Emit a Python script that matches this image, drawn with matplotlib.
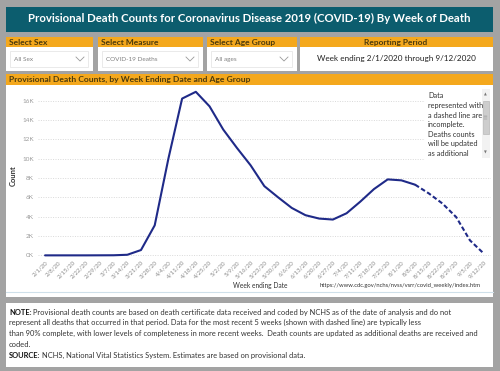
import matplotlib
matplotlib.use("Agg")
import matplotlib.pyplot as plt
from matplotlib.patches import Rectangle
from matplotlib.lines import Line2D

# ---------------- data ----------------
weeks = ["2/1/20", "2/8/20", "2/15/20", "2/22/20", "2/29/20", "3/7/20", "3/14/20",
         "3/21/20", "3/28/20", "4/4/20", "4/11/20", "4/18/20", "4/25/20", "5/2/20",
         "5/9/20", "5/16/20", "5/23/20", "5/30/20", "6/6/20", "6/13/20", "6/20/20",
         "6/27/20", "7/4/20", "7/11/20", "7/18/20", "7/25/20", "8/1/20", "8/8/20",
         "8/15/20", "8/22/20", "8/29/20", "9/5/20", "9/12/20"]
deaths = [0, 0, 0, 0, 5, 10, 60, 550, 3100, 10000, 16200, 16900, 15400, 13000,
          11100, 9300, 7150, 6000, 4900, 4150, 3800, 3700, 4350, 5550, 6850,
          7850, 7750, 7300, 6400, 5350, 3950, 1550, 200]
n_incomplete = 5  # last 5 weeks dashed
yticks = [0, 2000, 4000, 6000, 8000, 10000, 12000, 14000, 16000]
ytick_labels = ["0K", "2K", "4K", "6K", "8K", "10K", "12K", "14K", "16K"]

W, H = 500, 371
BG = "#a3a3a3"
TEAL = "#0c5d6e"
ORANGE = "#f4a81d"
HDR_TXT = "#4b3a0c"
LINE = "#1f2a88"
FONT = ["Lato", "DejaVu Sans"]

fig = plt.figure(figsize=(W / 100, H / 100), dpi=100)
fig.patch.set_facecolor(BG)
renderer = fig.canvas.get_renderer()


def fx(x):
    return x / W


def fy(y):
    return 1 - y / H


def rect(x0, y0, x1, y1, fc, ec="none", lw=0, z=0):
    fig.patches.append(Rectangle((fx(x0), fy(y1)), fx(x1) - fx(x0), fy(y0) - fy(y1),
                                 transform=fig.transFigure, facecolor=fc, edgecolor=ec,
                                 linewidth=lw, zorder=z))


def text(x, y, s, target_w=None, size=6, **kw):
    kw.setdefault("family", FONT)
    kw.setdefault("va", "center")
    kw.setdefault("zorder", 4)
    t = fig.text(fx(x), fy(y), s, fontsize=size, **kw)
    if target_w:
        w = t.get_window_extent(renderer).width
        t.set_fontsize(size * target_w / w)
    return t


def chevron(x, y):
    fig.lines.append(Line2D([fx(x - 4), fx(x), fx(x + 4)], [fy(y - 2), fy(y + 2), fy(y - 2)],
                            transform=fig.transFigure, color="#999999", lw=0.6, zorder=4))


# ---------------- title ----------------
rect(6, 7, 493, 32, TEAL)
text(249, 18, "Provisional Death Counts for Coronavirus Disease 2019 (COVID-19) By Week of Death",
     target_w=444, size=8, color="white", weight="bold", ha="center")

# ---------------- filter boxes ----------------
boxes = [(6, 93, "Select Sex", "All Sex"),
         (98, 203, "Select Measure", "COVID-19 Deaths"),
         (207, 297, "Select Age Group", "All ages")]
for x0, x1, head, val in boxes:
    rect(x0, 37, x1, 47.5, ORANGE)
    rect(x0, 47.5, x1, 71, "white")
    rect(x0 + 4, 51, x1 - 5, 67, "white", ec="#e6e6e6", lw=0.6, z=1)
    text(x0 + 3, 42.3, head, size=6.0, color=HDR_TXT, weight="bold")
    text(x0 + 8, 59.5, val, size=4.6, color="#808080")
    chevron(x1 - 13, 59)

rect(300, 37, 493, 47.5, ORANGE)
rect(300, 47.5, 493, 71, "white")
text(396, 42.3, "Reporting Period", size=6.0, color=HDR_TXT, ha="center", weight="bold")
text(396, 59, "Week ending 2/1/2020 through 9/12/2020", target_w=158, size=6,
     color="#222222", ha="center")

# ---------------- chart panel ----------------
rect(6, 74.5, 493, 84.5, ORANGE)
rect(6, 84.5, 493, 297, "white")
fig.lines.append(Line2D([fx(6), fx(493)], [fy(291.5), fy(291.5)], transform=fig.transFigure,
                        color="#cfe0ea", lw=0.8, zorder=1))
text(9, 79.5, "Provisional Death Counts, by Week Ending Date and Age Group",
     target_w=241, size=6, color=HDR_TXT, weight="bold")

ax = fig.add_axes([fx(38.2), fy(257), fx(490.5) - fx(38.2), fy(86) - fy(257)])
ax.set_zorder(2)
ax.set_facecolor("none")
x = list(range(len(weeks)))
k = len(weeks) - n_incomplete
ax.plot(x[:k], deaths[:k], color=LINE, lw=1.5, solid_capstyle="round", zorder=3)
ax.plot(x[k - 1:], deaths[k - 1:], color=LINE, lw=1.5, ls=(0, (2.2, 1.2)), zorder=3)
ax.set_xlim(-0.5, len(weeks) - 0.5)
ax.set_ylim(-170, 17500)
ax.set_yticks(yticks)
ax.set_yticklabels(ytick_labels, fontsize=4.6, color="#9a9a9a", family=FONT)
ax.set_xticks(x)
ax.set_xticklabels(weeks, fontsize=4.4, color="#8a8a8a", family=FONT, rotation=45,
                   ha="right", va="top", rotation_mode="anchor")
ax.tick_params(axis="both", length=0)
ax.tick_params(axis="y", pad=3)
ax.tick_params(axis="x", pad=2)
for s in ax.spines.values():
    s.set_visible(False)
ax.grid(axis="y", color="#d9d9d9", ls=(0, (1, 1.5)), lw=0.7)
ax.set_axisbelow(True)

text(13, 176, "Count", size=5.5, color="#333333", rotation=90, ha="center", weight="bold")
text(233, 285.5, "Week ending Date", target_w=55, size=6, color="#333333")
text(320, 285.5, "https://www.cdc.gov/nchs/nvss/vsrr/covid_weekly/index.htm", target_w=162,
     size=5, color="#333333")

# info box with scrollbar
rect(425, 88, 491, 160, "white", z=5)
info = ["Data", "represented with", "a dashed line are", "incomplete.", "Deaths counts",
        "will be updated", "as additional"]
for i, line in enumerate(info):
    text(428, 96 + i * 9.5, line, size=5.3, color="#333333", zorder=6)
rect(482, 89, 489.5, 158, "#f2f2f2", z=6)
rect(482.5, 100.5, 489, 133.5, "#cdcdcd", ec="#b0b0b0", lw=0.4, z=7)
text(485.8, 94, "▲", size=2.6, color="#777777", ha="center", zorder=8)
text(485.8, 153, "▼", size=2.6, color="#777777", ha="center", zorder=8)
for yy in (115.5, 117, 118.5):
    fig.lines.append(Line2D([fx(484.3), fx(487.3)], [fy(yy), fy(yy)], transform=fig.transFigure,
                            color="#888888", lw=0.3, zorder=8))

# ---------------- note box ----------------
rect(6, 303, 493, 367, "white")
note_size = 5.0
b = text(9, 312.3, "NOTE:", size=note_size, color="#111111", weight="bold")
bw = b.get_window_extent(renderer).width
r1 = text(9 + bw + 1.5, 312.3,
          "Provisional death counts are based on death certificate data received and coded by NCHS as of the date of analysis and do not",
          size=note_size, color="#333333")
w1 = bw + 1.5 + r1.get_window_extent(renderer).width
note_size *= 448 / w1
b.set_fontsize(note_size)
bw = b.get_window_extent(renderer).width
r1.set_fontsize(note_size)
r1.set_x(fx(9 + bw + 1.5))
text(9, 322.6, "represent all deaths that occurred in that period. Data for the most recent 5 weeks (shown with dashed line) are typically less",
     size=note_size, color="#333333")
text(9, 333.3, "than 90% complete, with lower levels of completeness in more recent weeks.  Death counts are updated as additional deaths are received and",
     size=note_size, color="#333333")
text(9, 344.3, "coded.", size=note_size, color="#333333")
s = text(9, 355.8, "SOURCE:", size=note_size, color="#111111", weight="bold")
sw = s.get_window_extent(renderer).width
text(9 + sw + 1.5, 355.8, "NCHS, National Vital Statistics System. Estimates are based on provisional data.",
     size=note_size, color="#333333")

fig.savefig("out.png", dpi=100, facecolor=BG)
